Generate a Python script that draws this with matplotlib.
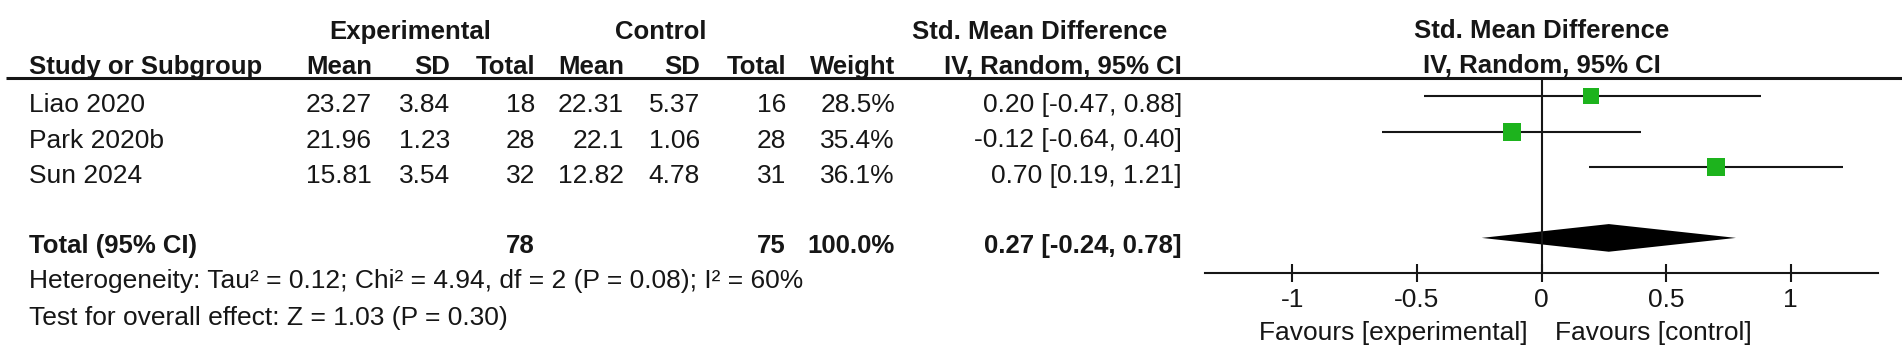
import matplotlib
matplotlib.use("Agg")
import matplotlib.pyplot as plt
import numpy as np

# data
studies = ["Liao 2020", "Park 2020b", "Sun 2024"]
exp_mean = [23.27, 21.96, 15.81]
exp_sd = [3.84, 1.23, 3.54]
exp_n = [18, 28, 32]
ctl_mean = [22.31, 22.1, 12.82]
ctl_sd = [5.37, 1.06, 4.78]
ctl_n = [16, 28, 31]
weights = [28.5, 35.4, 36.1]
smd = [0.20, -0.12, 0.70]
ci_lo = [-0.47, -0.64, 0.19]
ci_hi = [0.88, 0.40, 1.21]

total_exp_n = 78
total_ctl_n = 75
total_weight = 100.0
total_smd = 0.27
total_lo = -0.24
total_hi = 0.78

heterogeneity = "Heterogeneity: Tau\u00b2 = 0.12; Chi\u00b2 = 4.94, df = 2 (P = 0.08); I\u00b2 = 60%"
overall = "Test for overall effect: Z = 1.03 (P = 0.30)"

tick_vals = [-1, -0.5, 0, 0.5, 1]
tick_labels = ["-1", "-0.5", "0", "0.5", "1"]

plt.rcParams["font.family"] = ["Liberation Sans", "DejaVu Sans"]
FS = 19        # regular text
FSB = 18.5     # bold headers
INK = "#161616"
GREEN = "#1db31d"

W, H = 1902, 358
fig = plt.figure(figsize=(W / 100, H / 100), dpi=100)

# table part, pixel-like coordinates
ax_t = fig.add_axes([0, 0, 1, 1])
ax_t.set_xlim(0, W)
ax_t.set_ylim(H, 0)
ax_t.axis("off")

col = {"exp_mean": 372, "exp_sd": 450, "exp_n": 535, "ctl_mean": 624,
       "ctl_sd": 700, "ctl_n": 786, "weight": 895, "smd": 1182}
x_study = 29
row0, step = 112, 35.5

def t(x, y, s, ha="right", bold=False):
    ax_t.text(x, y, s, ha=ha, va="baseline", fontsize=FSB if bold else FS, color=INK,
              fontweight="bold" if bold else "normal")

# headers
t(410, 39, "Experimental", ha="center", bold=True)
t(661, 39, "Control", ha="center", bold=True)
t(1040, 39, "Std. Mean Difference", ha="center", bold=True)
t(x_study, 74, "Study or Subgroup", ha="left", bold=True)
for key, lab in [("exp_mean", "Mean"), ("exp_sd", "SD"), ("exp_n", "Total"),
                 ("ctl_mean", "Mean"), ("ctl_sd", "SD"), ("ctl_n", "Total"),
                 ("weight", "Weight"), ("smd", "IV, Random, 95% CI")]:
    t(col[key], 74, lab, bold=True)
ax_t.plot([6, W], [78, 78], color=INK, lw=2.2, solid_capstyle="butt")

# study rows
for i, name in enumerate(studies):
    y = row0 + step * i
    t(x_study, y, name, ha="left")
    t(col["exp_mean"], y, str(exp_mean[i]))
    t(col["exp_sd"], y, str(exp_sd[i]))
    t(col["exp_n"], y, str(exp_n[i]))
    t(col["ctl_mean"], y, str(ctl_mean[i]))
    t(col["ctl_sd"], y, str(ctl_sd[i]))
    t(col["ctl_n"], y, str(ctl_n[i]))
    t(col["weight"], y, "%.1f%%" % weights[i])
    t(col["smd"], y, "%.2f [%.2f, %.2f]" % (smd[i], ci_lo[i], ci_hi[i]))

y_tot = 253
t(x_study, y_tot, "Total (95% CI)", ha="left", bold=True)
t(col["exp_n"], y_tot, str(total_exp_n), bold=True)
t(col["ctl_n"], y_tot, str(total_ctl_n), bold=True)
t(col["weight"], y_tot, "%.1f%%" % total_weight, bold=True)
t(col["smd"], y_tot, "%.2f [%.2f, %.2f]" % (total_smd, total_lo, total_hi), bold=True)
t(x_study, 288, heterogeneity, ha="left")
t(x_study, 325, overall, ha="left")

# forest part
left, right, top, bottom = 1205, 1878, 78, 273
ax_f = fig.add_axes([left / W, 1 - bottom / H, (right - left) / W, (bottom - top) / H])
ax_f.set_facecolor("none")
ax_f.set_xlim(-1.35, 1.35)
rows = np.arange(len(studies))
tot_row = 4
ax_f.set_ylim(4.99, -0.51)

ax_f.axvline(0, color=INK, lw=1.5)
ax_f.hlines(rows, ci_lo, ci_hi, color=INK, lw=1.5)
for r, x, w in zip(rows, smd, weights):
    ax_f.plot(x, r, "s", color=GREEN, markersize=2.1 * np.sqrt(w), markeredgewidth=0)
h = 0.39
ax_f.fill([total_lo, total_smd, total_hi, total_smd],
          [tot_row, tot_row - h, tot_row, tot_row + h], color="black", lw=0)

for s in ["top", "left", "right"]:
    ax_f.spines[s].set_visible(False)
ax_f.spines["bottom"].set_linewidth(1.5)
ax_f.spines["bottom"].set_color(INK)
ax_f.set_yticks([])
ax_f.set_xticks(tick_vals)
ax_f.set_xticklabels(tick_labels)
ax_f.tick_params(axis="x", direction="inout", length=13.5, width=1.5, color=INK,
                 labelsize=FS, labelcolor=INK, pad=4)

ax_f.annotate("Std. Mean Difference", xy=(0, 1), xycoords=("data", "axes fraction"),
              xytext=(0, 28.8), textcoords="offset points", ha="center", va="baseline",
              fontsize=FSB, fontweight="bold", color=INK)
ax_f.annotate("IV, Random, 95% CI", xy=(0, 1), xycoords=("data", "axes fraction"),
              xytext=(0, 3.6), textcoords="offset points", ha="center", va="baseline",
              fontsize=FSB, fontweight="bold", color=INK)
ax_f.annotate("Favours [experimental]", xy=(0, 0), xycoords=("data", "axes fraction"),
              xytext=(-10, -48.2), textcoords="offset points", ha="right", va="baseline",
              fontsize=FS, color=INK)
ax_f.annotate("Favours [control]", xy=(0, 0), xycoords=("data", "axes fraction"),
              xytext=(10, -48.2), textcoords="offset points", ha="left", va="baseline",
              fontsize=FS, color=INK)

fig.savefig("out.png", dpi=100, facecolor="white")
